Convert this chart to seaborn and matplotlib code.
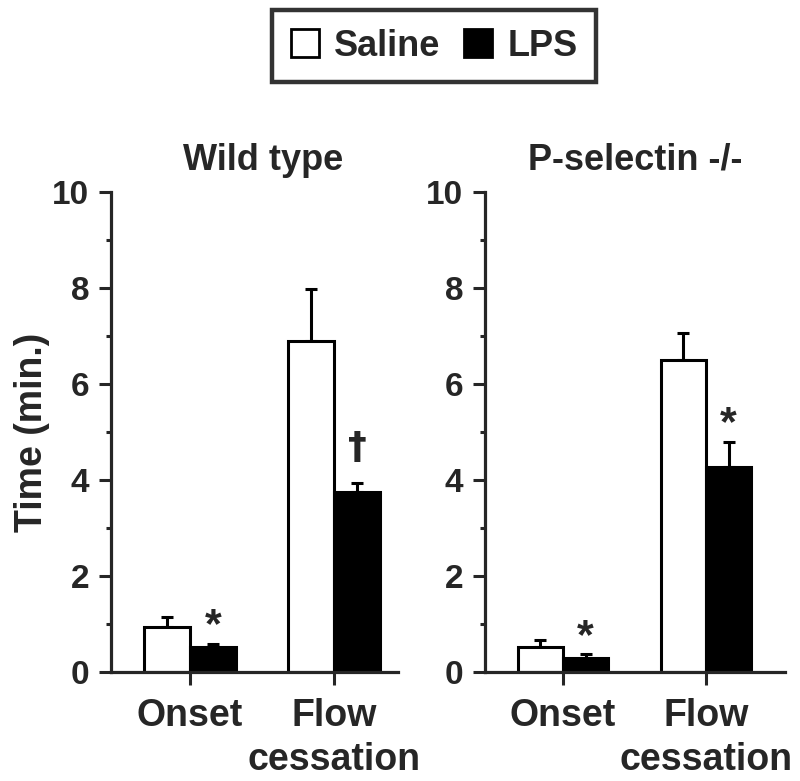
import matplotlib
matplotlib.use("Agg")
import matplotlib.pyplot as plt
import seaborn as sns
import pandas as pd
import numpy as np
from matplotlib.patches import Patch
from matplotlib.ticker import MultipleLocator

categories = ["Onset", "Flow\ncessation"]
treatments = ["Saline", "LPS"]
wt_saline = [0.94, 6.90]
wt_saline_err = [0.20, 1.08]
wt_lps = [0.52, 3.75]
wt_lps_err = [0.07, 0.18]
ps_saline = [0.52, 6.50]
ps_saline_err = [0.15, 0.56]
ps_lps = [0.29, 4.27]
ps_lps_err = [0.08, 0.52]
panel_titles = ["Wild type", "P-selectin -/-"]
wt_marks = ["*", "\u2020"]
ps_marks = ["*", "*"]

sns.set_theme(style="ticks")
plt.rcParams['font.family'] = ['Liberation Sans', 'DejaVu Sans']
plt.rcParams['font.weight'] = 'bold'

fig = plt.figure(figsize=(8.0, 7.81), dpi=100)
W, H = 800, 781

def ax_rect(x0, x1, ytop, ybot):
    return [x0 / W, 1 - ybot / H, (x1 - x0) / W, (ybot - ytop) / H]

ax1 = fig.add_axes(ax_rect(111, 398, 192, 672))
ax2 = fig.add_axes(ax_rect(485, 785, 192, 672))

panels = [
    (ax1, wt_saline, wt_saline_err, wt_lps, wt_lps_err, wt_marks, (-0.545, 1.44), panel_titles[0], 0.53),
    (ax2, ps_saline, ps_saline_err, ps_lps, ps_lps_err, ps_marks, (-0.545, 1.552), panel_titles[1], 0.5),
]

for ax, sal, sal_e, lps, lps_e, marks, xl, title, tx in panels:
    df = pd.DataFrame({
        "cat": categories * 2,
        "trt": ["Saline"] * 2 + ["LPS"] * 2,
        "val": list(sal) + list(lps),
    })
    sns.barplot(data=df, x="cat", y="val", hue="trt", hue_order=treatments,
                order=categories, palette={"Saline": "white", "LPS": "black"},
                edgecolor="black", linewidth=2.2, width=0.635, errorbar=None,
                legend=False, ax=ax, zorder=2)
    bars = [p for p in ax.patches]
    vals = list(sal) + list(lps)
    errs = list(sal_e) + list(lps_e)
    for i, p in enumerate(bars[:4]):
        xc = p.get_x() + p.get_width() / 2
        ax.errorbar(xc, vals[i], yerr=[[0], [errs[i]]], fmt="none",
                    ecolor="black", elinewidth=2.2, capsize=4.3, capthick=2.2, zorder=1)
    for j, m in enumerate(marks):
        p = bars[2 + j]
        xc = p.get_x() + p.get_width() / 2
        top = lps[j] + lps_e[j]
        if m == "*":
            ax.text(xc, top - 0.05, m, ha="center", va="bottom",
                    fontsize=31, fontweight="bold")
        else:
            ax.text(xc, top + 0.52, m, ha="center", va="baseline",
                    fontsize=27, fontweight="bold", family=["DejaVu Sans"])
    ax.set_xlim(*xl)
    ax.set_ylim(0, 10)
    ax.yaxis.set_major_locator(MultipleLocator(2))
    ax.yaxis.set_minor_locator(MultipleLocator(1))
    ax.tick_params(axis="y", which="major", length=8.6, width=2.2, labelsize=24, pad=7)
    ax.tick_params(axis="y", which="minor", length=3.6, width=2.2)
    ax.tick_params(axis="x", which="major", length=9, width=2.2, labelsize=27, pad=10)
    for lab in ax.get_xticklabels() + ax.get_yticklabels():
        lab.set_fontweight("bold")
    for lab in ax.get_xticklabels():
        lab.set_linespacing(1.27)
    for s in ["left", "bottom"]:
        ax.spines[s].set_linewidth(2.3)
    sns.despine(ax=ax)
    ax.spines["left"].set_bounds(0, 10)
    ax.set_xlabel("")
    ax.set_ylabel("")
    ax.set_title(title, fontsize=26, fontweight="bold", pad=16, x=tx)

ax1.set_ylabel("Time (min.)", fontsize=27, fontweight="bold", labelpad=1.5)

handles = [Patch(facecolor="white", edgecolor="black", linewidth=2),
           Patch(facecolor="black", edgecolor="black", linewidth=2)]
leg = fig.legend(handles, treatments, loc="center", bbox_to_anchor=(0.5425, 0.941),
                 ncol=2, frameon=True, fancybox=False, edgecolor="black",
                 prop={"size": 26, "weight": "bold"}, handlelength=0.78, handleheight=0.85,
                 handletextpad=0.42, columnspacing=0.65, borderpad=0.52)
leg.get_frame().set_linewidth(3.2)

fig.savefig("out.png", dpi=100)
